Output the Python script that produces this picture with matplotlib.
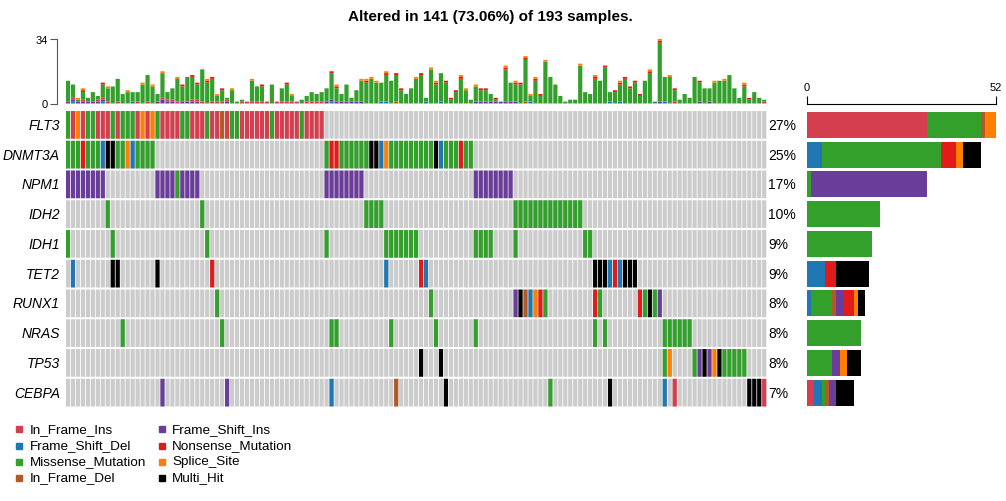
import numpy as np
import matplotlib
matplotlib.use("Agg")
import matplotlib.pyplot as plt
from matplotlib.patches import Rectangle

plt.rcParams['font.family'] = ['Liberation Sans', 'DejaVu Sans']

n_samples = 193
n_altered = 141
genes = ["FLT3", "DNMT3A", "NPM1", "IDH2", "IDH1", "TET2", "RUNX1", "NRAS", "TP53", "CEBPA"]

# variant classification codes
# I In_Frame_Ins, D Frame_Shift_Del, M Missense_Mutation, d In_Frame_Del,
# F Frame_Shift_Ins, N Nonsense_Mutation, S Splice_Site, X Multi_Hit
flt3 = [(0, "MISIMMIIIMIMMMISISMIIIIMMIIIMIIdIMMIIIIIIMIIIIIMIIII")]
dnmt3a = [(0, "MMMNMMMDXXMMSDMMMM"), (52, "MNNMMMMMMXXDSMMMMMMMMMXDMMMNMM")]
npm1 = [(0, "FFFFFFFF"), (18, "FFFFMFFFF"), (52, "FFFFFFFF"), (82, "FFFFFFFF")]
idh2 = [(8, "M"), (27, "M"), (60, "MMMM"), (90, "MMMMMMMMMMMMMM")]
idh1 = [(0, "M"), (9, "M"), (28, "M"), (52, "M"), (64, "MMMMMMM"), (82, "MMMM"), (90, "M"), (104, "MM")]
tet2 = [(1, "D"), (9, "XX"), (18, "X"), (29, "N"), (64, "D"), (71, "ND"), (106, "XXXDNDXXX")]
runx1 = [(30, "M"), (73, "M"), (90, "FXdDSNM"), (106, "NM"), (115, "NMXMF")]
nras = [(11, "M"), (31, "M"), (53, "MM"), (65, "M"), (74, "M"), (82, "M"), (106, "M"), (108, "M"), (120, "MMMMMM")]
tp53 = [(71, "X"), (75, "X"), (120, "MS"), (126, "MFXFSXMMMMM")]
cebpa = [(19, "F"), (32, "F"), (53, "D"), (66, "d"), (76, "X"), (97, "M"), (109, "X"), (120, "D"), (122, "I"), (137, "XXXI")]
gene_rows = [flt3, dnmt3a, npm1, idh2, idh1, tet2, runx1, nras, tp53, cebpa]

# total variants per sample (top bar)
tmb_total = [12, 10, 3, 8, 3, 6, 4, 11, 9, 9, 13, 5, 7, 6, 6, 11, 15, 10, 5, 17,
             6, 8, 14, 10, 14, 15, 11, 18, 13, 14, 5, 8, 3, 8, 1, 2, 1, 13, 9, 10,
             1, 10, 1, 8, 11, 5, 1, 2, 4, 6, 5, 6, 8, 17, 10, 5, 10, 3, 7, 13,
             13, 14, 12, 11, 17, 12, 16, 8, 5, 8, 14, 16, 3, 19, 12, 16, 12, 3, 7, 15,
             8, 2, 10, 8, 8, 5, 3, 1, 20, 11, 12, 11, 25, 5, 14, 5, 23, 14, 10, 4,
             1, 2, 2, 21, 6, 5, 15, 12, 20, 6, 7, 12, 14, 9, 12, 5, 12, 18, 1, 34,
             14, 15, 8, 2, 5, 3, 14, 12, 8, 8, 12, 12, 13, 15, 8, 3, 11, 3, 6, 3, 2]
nonsense_top = [3, 7, 23, 25, 26, 28, 29, 31, 39, 44, 53, 54, 60, 64, 66, 67, 71, 74, 76, 77,
                78, 79, 83, 84, 86, 88, 90, 91, 92, 94, 95, 106, 108, 110, 111, 112, 113,
                114, 115, 117, 119, 122, 127, 136, 137]
splice_top = [2, 3, 8, 12, 15, 17, 19, 22, 28, 30, 33, 37, 45, 54, 59, 60, 61, 62, 64, 70,
              73, 74, 79, 80, 82, 88, 90, 92, 93, 94, 96, 103, 106, 111, 117, 119, 121, 130,
              132, 136]

vc_order = ["I", "D", "M", "d", "F", "N", "S", "X"]
vc_names = {"I": "In_Frame_Ins", "D": "Frame_Shift_Del", "M": "Missense_Mutation",
            "d": "In_Frame_Del", "F": "Frame_Shift_Ins", "N": "Nonsense_Mutation",
            "S": "Splice_Site", "X": "Multi_Hit"}
vc_colors = {"I": "#D53E4F", "D": "#1F78B4", "M": "#33A02C", "d": "#B15928",
             "F": "#6A3D9A", "N": "#E31A1C", "S": "#FF7F00", "X": "black"}

# expand segments into one code per sample
mat = np.full((len(genes), n_altered), ".", dtype="<U1")
for i, segs in enumerate(gene_rows):
    for start, codes in segs:
        for k, c in enumerate(codes):
            mat[i, start + k] = c

W, H = 1006, 502
fig = plt.figure(figsize=(W / 100, H / 100), dpi=100)

def fbox(x0, y0, x1, y1):
    return [x0 / W, 1 - y1 / H, (x1 - x0) / W, (y1 - y0) / H]

gx0, gx1 = 65.5, 766.7
ax_top = fig.add_axes(fbox(gx0, 40, gx1, 104.5))
ax = fig.add_axes(fbox(gx0, 111, gx1, 408.5))
ax_r = fig.add_axes(fbox(807, 111, 995.7, 408.5))

xs = np.arange(n_altered) + 0.5
cw = 0.84

# ---- main grid ----
for i in range(len(genes)):
    ax.bar(xs, 0.93, bottom=i + 0.035, width=cw, color="#CCCCCC", linewidth=0, snap=False)
    for vc in vc_order:
        sel = mat[i] == vc
        if sel.any():
            ax.bar(xs[sel], 0.93, bottom=i + 0.035, width=cw, color=vc_colors[vc],
                   linewidth=0, snap=False)
ax.set_xlim(0, n_altered)
ax.set_ylim(len(genes), 0)
ax.axis("off")
for i, g in enumerate(genes):
    ax.text(-1.1, i + 0.5, g, ha="right", va="center", style="italic", fontsize=10)
    cnt = np.sum(mat[i] != ".")
    ax.text(n_altered + 0.25, i + 0.5, f"{round(cnt / n_samples * 100)}%",
            ha="left", va="center", fontsize=10)

# ---- top bar: variants per sample ----
bottom_cnt = {vc: np.sum(mat == vc, axis=0) for vc in ["D", "F", "I", "d"]}
n_top = np.zeros(n_altered)
n_top[nonsense_top] = 1
s_top = np.zeros(n_altered)
s_top[splice_top] = 1
total = np.array(tmb_total, dtype=float)
base = np.zeros(n_altered)
stack = [("D", bottom_cnt["D"]), ("F", bottom_cnt["F"]), ("I", bottom_cnt["I"]), ("d", bottom_cnt["d"])]
low = sum(v for _, v in stack)
green = np.clip(total - low - n_top - s_top, 0, None)
stack += [("M", green), ("N", n_top), ("S", s_top)]
for vc, vals in stack:
    ax_top.bar(xs, vals, bottom=base, width=cw, color=vc_colors[vc], linewidth=0, snap=False)
    base = base + vals
ax_top.set_xlim(0, n_altered)
ax_top.set_ylim(0, 34)
for s in ["top", "right", "bottom"]:
    ax_top.spines[s].set_visible(False)
ax_top.spines["left"].set_position(("outward", 6))
ax_top.spines["left"].set_bounds(0, 34)
ax_top.spines["left"].set_color("#555555")
ax_top.set_xticks([])
ax_top.set_yticks([0, 34])
ax_top.tick_params(axis="y", length=5, color="#555555", labelsize=8, pad=2)

# ---- right bar: variants per gene ----
left = np.zeros(len(genes))
ys = np.arange(len(genes)) + 0.5
for vc in vc_order:
    vals = np.sum(mat == vc, axis=1)
    ax_r.barh(ys, vals, left=left, height=0.88, color=vc_colors[vc], linewidth=0)
    left = left + vals
ax_r.set_xlim(0, 52)
ax_r.set_ylim(len(genes), 0)
for s in ["bottom", "right", "left"]:
    ax_r.spines[s].set_visible(False)
ax_r.spines["top"].set_position(("outward", 4))
ax_r.spines["top"].set_bounds(0, 52)
ax_r.xaxis.set_ticks_position("top")
ax_r.set_xticks([0, 52])
ax_r.set_yticks([])
ax_r.tick_params(axis="x", length=6, labelsize=8, pad=3)

# ---- title ----
fig.text(490 / W, 1 - 17 / H, f"Altered in {n_altered} ({n_altered / n_samples * 100:.2f}%) of {n_samples} samples.",
         ha="center", va="center", fontsize=11, fontweight="bold")

# ---- legend ----
legend_cols = [["I", "D", "M", "d"], ["F", "N", "S", "X"]]
legend_x = [(16, 30), (159, 172)]
legend_y = [430, 446.5, 462.5, 478.5]
for (sx, tx), col in zip(legend_x, legend_cols):
    for y, vc in zip(legend_y, col):
        fig.patches.append(Rectangle((sx / W, 1 - (y + 3) / H), 6 / W, 6 / H,
                                     transform=fig.transFigure, color=vc_colors[vc]))
        fig.text(tx / W, 1 - y / H, vc_names[vc], ha="left", va="center", fontsize=9.7)

fig.savefig("out.png", dpi=100)
